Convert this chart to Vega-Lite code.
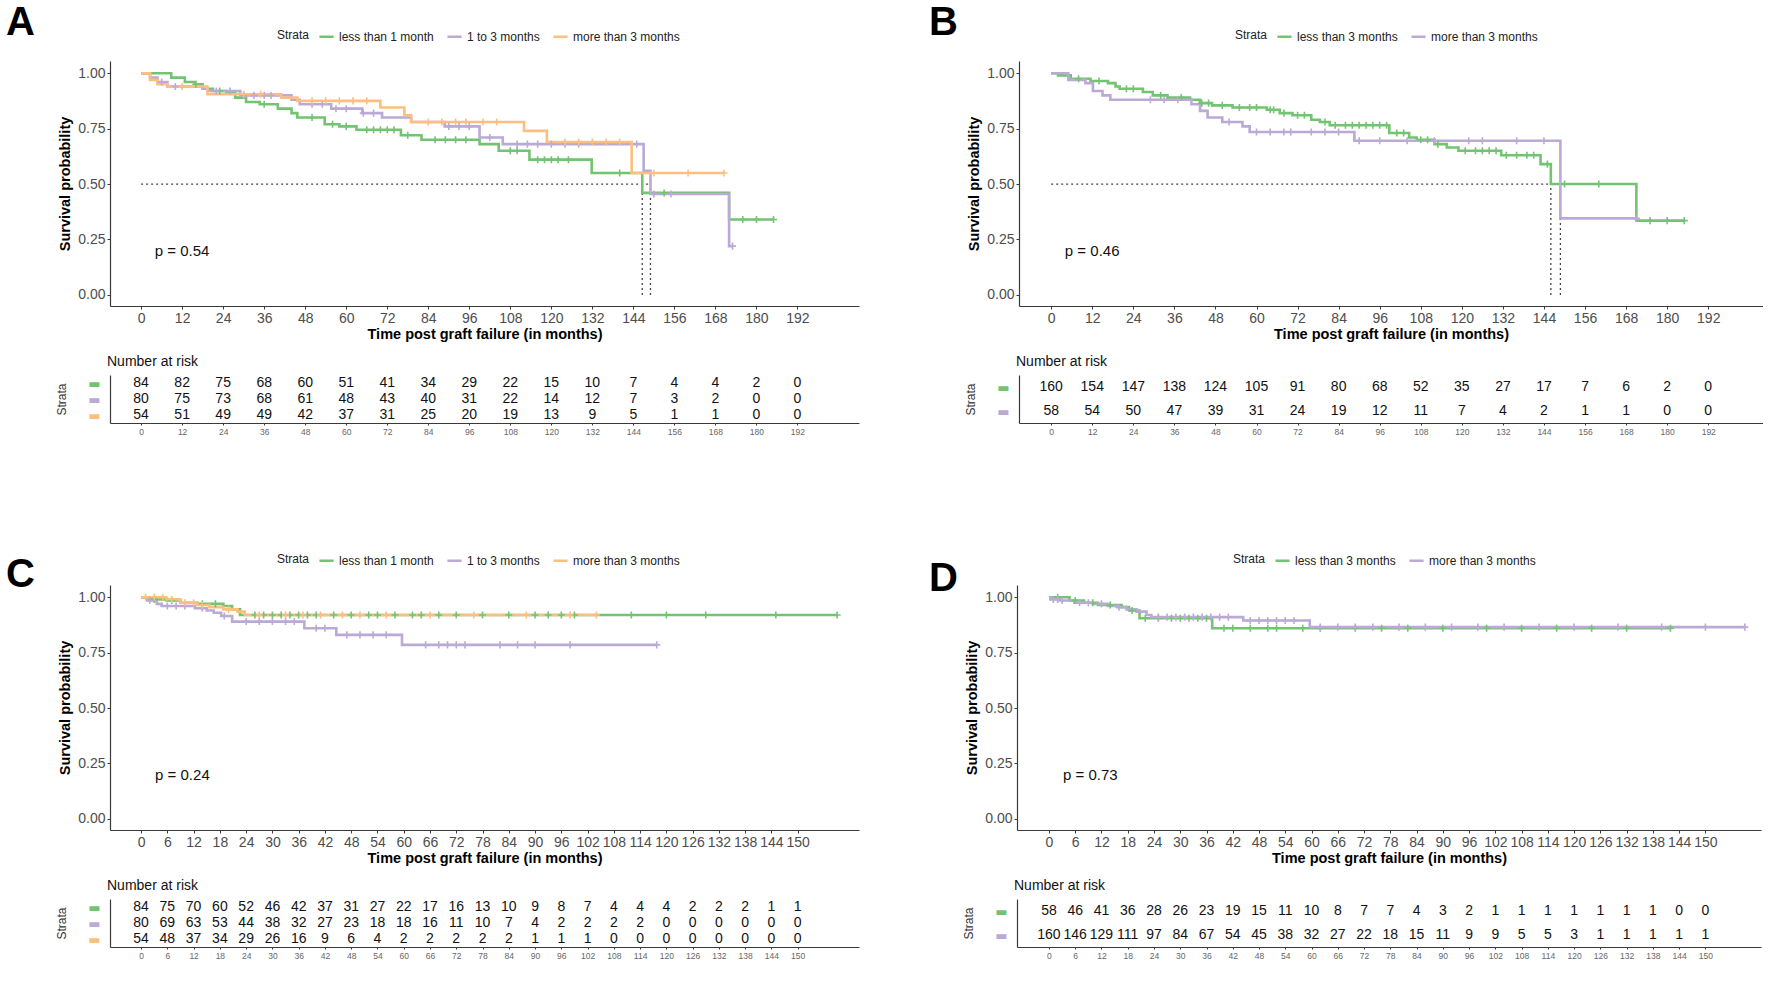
{
"$schema": "https://vega.github.io/schema/vega-lite/v6.json",
"padding": {"left": 6, "top": 3, "right": 0, "bottom": 0},
"background": "white",
"config": {
  "view": {"stroke": null},
  "font": "Liberation Sans",
  "axis": {"grid": false, "domainColor": "#3a3a3a", "domainWidth": 1.2, "tickColor": "#3a3a3a", "labelFont": "Liberation Sans", "titleFont": "Liberation Sans", "labelOverlap": false, "labelFlush": false},
  "title": {"font": "Liberation Sans"},
  "legend": {"orient": "none", "legendY": -33, "direction": "horizontal", "titleOrient": "left", "titleFontSize": 12, "titleFontWeight": "normal", "titleColor": "#222", "labelFontSize": 12, "labelColor": "#222", "labelFont": "Liberation Sans", "titleFont": "Liberation Sans", "symbolType": "stroke", "symbolStrokeWidth": 2.5, "symbolSize": 200, "columnPadding": 8, "titlePadding": 8}
},
"datasets": {
"curvesA": [
{"g":"less than 1 month","t":0,"s":1},{"g":"less than 1 month","t":8.8,"s":0.98},{"g":"less than 1 month","t":12.8,"s":0.96},{"g":"less than 1 month","t":15.8,"s":0.95},{"g":"less than 1 month","t":18,"s":0.93},{"g":"less than 1 month","t":21,"s":0.92},{"g":"less than 1 month","t":25,"s":0.91},{"g":"less than 1 month","t":27.5,"s":0.89},{"g":"less than 1 month","t":30.7,"s":0.87},{"g":"less than 1 month","t":34.7,"s":0.86},{"g":"less than 1 month","t":40,"s":0.84},{"g":"less than 1 month","t":44,"s":0.82},{"g":"less than 1 month","t":45.7,"s":0.80},{"g":"less than 1 month","t":53.7,"s":0.77},{"g":"less than 1 month","t":58,"s":0.76},{"g":"less than 1 month","t":63,"s":0.745},{"g":"less than 1 month","t":76,"s":0.72},{"g":"less than 1 month","t":82,"s":0.70},{"g":"less than 1 month","t":99,"s":0.68},{"g":"less than 1 month","t":104.6,"s":0.65},{"g":"less than 1 month","t":113.6,"s":0.61},{"g":"less than 1 month","t":131.8,"s":0.55},{"g":"less than 1 month","t":146.6,"s":0.46},{"g":"less than 1 month","t":172,"s":0.34},{"g":"less than 1 month","t":185,"s":0.34},
{"g":"1 to 3 months","t":0,"s":1},{"g":"1 to 3 months","t":2.6,"s":0.98},{"g":"1 to 3 months","t":4.8,"s":0.96},{"g":"1 to 3 months","t":7.7,"s":0.94},{"g":"1 to 3 months","t":18,"s":0.93},{"g":"1 to 3 months","t":19.5,"s":0.92},{"g":"1 to 3 months","t":29,"s":0.90},{"g":"1 to 3 months","t":44,"s":0.88},{"g":"1 to 3 months","t":46.4,"s":0.86},{"g":"1 to 3 months","t":55.6,"s":0.84},{"g":"1 to 3 months","t":64.7,"s":0.82},{"g":"1 to 3 months","t":70.5,"s":0.80},{"g":"1 to 3 months","t":79,"s":0.78},{"g":"1 to 3 months","t":88.8,"s":0.76},{"g":"1 to 3 months","t":99,"s":0.71},{"g":"1 to 3 months","t":105.8,"s":0.68},{"g":"1 to 3 months","t":147,"s":0.56},{"g":"1 to 3 months","t":149,"s":0.455},{"g":"1 to 3 months","t":172,"s":0.22},{"g":"1 to 3 months","t":173,"s":0.22},
{"g":"more than 3 months","t":0,"s":1},{"g":"more than 3 months","t":2.6,"s":0.97},{"g":"more than 3 months","t":4.8,"s":0.95},{"g":"more than 3 months","t":7.7,"s":0.94},{"g":"more than 3 months","t":19.4,"s":0.905},{"g":"more than 3 months","t":41,"s":0.89},{"g":"more than 3 months","t":45.7,"s":0.875},{"g":"more than 3 months","t":70,"s":0.845},{"g":"more than 3 months","t":77,"s":0.81},{"g":"more than 3 months","t":79,"s":0.78},{"g":"more than 3 months","t":112,"s":0.74},{"g":"more than 3 months","t":118.7,"s":0.69},{"g":"more than 3 months","t":143.5,"s":0.55},{"g":"more than 3 months","t":170.5,"s":0.55}
],
"censA": [
{"g":"less than 1 month","t":16,"s":0.95},{"g":"less than 1 month","t":23,"s":0.92},{"g":"less than 1 month","t":36,"s":0.86},{"g":"less than 1 month","t":50,"s":0.80},{"g":"less than 1 month","t":56,"s":0.77},{"g":"less than 1 month","t":60,"s":0.76},{"g":"less than 1 month","t":66,"s":0.745},{"g":"less than 1 month","t":68,"s":0.745},{"g":"less than 1 month","t":70,"s":0.745},{"g":"less than 1 month","t":72,"s":0.745},{"g":"less than 1 month","t":74,"s":0.745},{"g":"less than 1 month","t":78,"s":0.72},{"g":"less than 1 month","t":86,"s":0.70},{"g":"less than 1 month","t":89,"s":0.70},{"g":"less than 1 month","t":92,"s":0.70},{"g":"less than 1 month","t":95,"s":0.70},{"g":"less than 1 month","t":108,"s":0.65},{"g":"less than 1 month","t":110,"s":0.65},{"g":"less than 1 month","t":116,"s":0.61},{"g":"less than 1 month","t":118,"s":0.61},{"g":"less than 1 month","t":120,"s":0.61},{"g":"less than 1 month","t":122,"s":0.61},{"g":"less than 1 month","t":125,"s":0.61},{"g":"less than 1 month","t":140,"s":0.55},{"g":"less than 1 month","t":153,"s":0.46},{"g":"less than 1 month","t":176,"s":0.34},{"g":"less than 1 month","t":180,"s":0.34},{"g":"less than 1 month","t":185,"s":0.34},
{"g":"1 to 3 months","t":6,"s":0.96},{"g":"1 to 3 months","t":10,"s":0.94},{"g":"1 to 3 months","t":22,"s":0.92},{"g":"1 to 3 months","t":26,"s":0.92},{"g":"1 to 3 months","t":30,"s":0.90},{"g":"1 to 3 months","t":33,"s":0.90},{"g":"1 to 3 months","t":36,"s":0.90},{"g":"1 to 3 months","t":38,"s":0.90},{"g":"1 to 3 months","t":50,"s":0.86},{"g":"1 to 3 months","t":53,"s":0.86},{"g":"1 to 3 months","t":57,"s":0.84},{"g":"1 to 3 months","t":60,"s":0.84},{"g":"1 to 3 months","t":65,"s":0.82},{"g":"1 to 3 months","t":68,"s":0.82},{"g":"1 to 3 months","t":90,"s":0.76},{"g":"1 to 3 months","t":93,"s":0.76},{"g":"1 to 3 months","t":96,"s":0.76},{"g":"1 to 3 months","t":102,"s":0.71},{"g":"1 to 3 months","t":110,"s":0.68},{"g":"1 to 3 months","t":113,"s":0.68},{"g":"1 to 3 months","t":116,"s":0.68},{"g":"1 to 3 months","t":120,"s":0.68},{"g":"1 to 3 months","t":124,"s":0.68},{"g":"1 to 3 months","t":128,"s":0.68},{"g":"1 to 3 months","t":145,"s":0.68},{"g":"1 to 3 months","t":150,"s":0.455},{"g":"1 to 3 months","t":155,"s":0.455},{"g":"1 to 3 months","t":173,"s":0.22},
{"g":"more than 3 months","t":12,"s":0.94},{"g":"more than 3 months","t":30,"s":0.905},{"g":"more than 3 months","t":35,"s":0.905},{"g":"more than 3 months","t":50,"s":0.875},{"g":"more than 3 months","t":54,"s":0.875},{"g":"more than 3 months","t":58,"s":0.875},{"g":"more than 3 months","t":62,"s":0.875},{"g":"more than 3 months","t":66,"s":0.875},{"g":"more than 3 months","t":84,"s":0.78},{"g":"more than 3 months","t":88,"s":0.78},{"g":"more than 3 months","t":92,"s":0.78},{"g":"more than 3 months","t":95,"s":0.78},{"g":"more than 3 months","t":100,"s":0.78},{"g":"more than 3 months","t":104,"s":0.78},{"g":"more than 3 months","t":124,"s":0.69},{"g":"more than 3 months","t":128,"s":0.69},{"g":"more than 3 months","t":132,"s":0.69},{"g":"more than 3 months","t":136,"s":0.69},{"g":"more than 3 months","t":140,"s":0.69},{"g":"more than 3 months","t":150,"s":0.55},{"g":"more than 3 months","t":160,"s":0.55},{"g":"more than 3 months","t":170.5,"s":0.55}
],
"medA": [{"x":0,"x2":149,"y":0.5,"y2":0.5},{"x":146.6,"x2":146.6,"y":0,"y2":0.5},{"x":149,"x2":149,"y":0,"y2":0.5}],
"riskA": [
{"g":"less than 1 month","t":0,"n":84},{"g":"less than 1 month","t":12,"n":82},{"g":"less than 1 month","t":24,"n":75},{"g":"less than 1 month","t":36,"n":68},{"g":"less than 1 month","t":48,"n":60},{"g":"less than 1 month","t":60,"n":51},{"g":"less than 1 month","t":72,"n":41},{"g":"less than 1 month","t":84,"n":34},{"g":"less than 1 month","t":96,"n":29},{"g":"less than 1 month","t":108,"n":22},{"g":"less than 1 month","t":120,"n":15},{"g":"less than 1 month","t":132,"n":10},{"g":"less than 1 month","t":144,"n":7},{"g":"less than 1 month","t":156,"n":4},{"g":"less than 1 month","t":168,"n":4},{"g":"less than 1 month","t":180,"n":2},{"g":"less than 1 month","t":192,"n":0},
{"g":"1 to 3 months","t":0,"n":80},{"g":"1 to 3 months","t":12,"n":75},{"g":"1 to 3 months","t":24,"n":73},{"g":"1 to 3 months","t":36,"n":68},{"g":"1 to 3 months","t":48,"n":61},{"g":"1 to 3 months","t":60,"n":48},{"g":"1 to 3 months","t":72,"n":43},{"g":"1 to 3 months","t":84,"n":40},{"g":"1 to 3 months","t":96,"n":31},{"g":"1 to 3 months","t":108,"n":22},{"g":"1 to 3 months","t":120,"n":14},{"g":"1 to 3 months","t":132,"n":12},{"g":"1 to 3 months","t":144,"n":7},{"g":"1 to 3 months","t":156,"n":3},{"g":"1 to 3 months","t":168,"n":2},{"g":"1 to 3 months","t":180,"n":0},{"g":"1 to 3 months","t":192,"n":0},
{"g":"more than 3 months","t":0,"n":54},{"g":"more than 3 months","t":12,"n":51},{"g":"more than 3 months","t":24,"n":49},{"g":"more than 3 months","t":36,"n":49},{"g":"more than 3 months","t":48,"n":42},{"g":"more than 3 months","t":60,"n":37},{"g":"more than 3 months","t":72,"n":31},{"g":"more than 3 months","t":84,"n":25},{"g":"more than 3 months","t":96,"n":20},{"g":"more than 3 months","t":108,"n":19},{"g":"more than 3 months","t":120,"n":13},{"g":"more than 3 months","t":132,"n":9},{"g":"more than 3 months","t":144,"n":5},{"g":"more than 3 months","t":156,"n":1},{"g":"more than 3 months","t":168,"n":1},{"g":"more than 3 months","t":180,"n":0},{"g":"more than 3 months","t":192,"n":0}
],
"curvesB": [
{"g":"less than 3 months","t":0,"s":1},{"g":"less than 3 months","t":2,"s":0.99},{"g":"less than 3 months","t":5.7,"s":0.975},{"g":"less than 3 months","t":11.5,"s":0.965},{"g":"less than 3 months","t":16.6,"s":0.955},{"g":"less than 3 months","t":18.8,"s":0.94},{"g":"less than 3 months","t":20,"s":0.93},{"g":"less than 3 months","t":26.8,"s":0.915},{"g":"less than 3 months","t":29.7,"s":0.90},{"g":"less than 3 months","t":34,"s":0.89},{"g":"less than 3 months","t":40.6,"s":0.88},{"g":"less than 3 months","t":43.5,"s":0.865},{"g":"less than 3 months","t":47,"s":0.855},{"g":"less than 3 months","t":53,"s":0.845},{"g":"less than 3 months","t":63,"s":0.835},{"g":"less than 3 months","t":66.8,"s":0.82},{"g":"less than 3 months","t":70.5,"s":0.81},{"g":"less than 3 months","t":76,"s":0.79},{"g":"less than 3 months","t":78.5,"s":0.78},{"g":"less than 3 months","t":81.4,"s":0.765},{"g":"less than 3 months","t":98.8,"s":0.73},{"g":"less than 3 months","t":104.6,"s":0.71},{"g":"less than 3 months","t":106.8,"s":0.70},{"g":"less than 3 months","t":112,"s":0.68},{"g":"less than 3 months","t":115.6,"s":0.665},{"g":"less than 3 months","t":119,"s":0.65},{"g":"less than 3 months","t":131.5,"s":0.63},{"g":"less than 3 months","t":143,"s":0.59},{"g":"less than 3 months","t":146,"s":0.50},{"g":"less than 3 months","t":171,"s":0.335},{"g":"less than 3 months","t":185,"s":0.335},
{"g":"more than 3 months","t":0,"s":1},{"g":"more than 3 months","t":5,"s":0.97},{"g":"more than 3 months","t":10,"s":0.955},{"g":"more than 3 months","t":12.2,"s":0.92},{"g":"more than 3 months","t":15,"s":0.90},{"g":"more than 3 months","t":17.3,"s":0.88},{"g":"more than 3 months","t":41,"s":0.86},{"g":"more than 3 months","t":43.5,"s":0.83},{"g":"more than 3 months","t":45.7,"s":0.80},{"g":"more than 3 months","t":50,"s":0.78},{"g":"more than 3 months","t":55.9,"s":0.76},{"g":"more than 3 months","t":58,"s":0.735},{"g":"more than 3 months","t":88.6,"s":0.695},{"g":"more than 3 months","t":148.8,"s":0.345},{"g":"more than 3 months","t":171,"s":0.345}
],
"censB": [
{"g":"less than 3 months","t":8,"s":0.975},{"g":"less than 3 months","t":14,"s":0.965},{"g":"less than 3 months","t":22,"s":0.93},{"g":"less than 3 months","t":24,"s":0.93},{"g":"less than 3 months","t":32,"s":0.90},{"g":"less than 3 months","t":38,"s":0.89},{"g":"less than 3 months","t":44,"s":0.865},{"g":"less than 3 months","t":46,"s":0.865},{"g":"less than 3 months","t":50,"s":0.855},{"g":"less than 3 months","t":55,"s":0.845},{"g":"less than 3 months","t":58,"s":0.845},{"g":"less than 3 months","t":60,"s":0.845},{"g":"less than 3 months","t":64,"s":0.835},{"g":"less than 3 months","t":65,"s":0.835},{"g":"less than 3 months","t":68,"s":0.82},{"g":"less than 3 months","t":72,"s":0.81},{"g":"less than 3 months","t":74,"s":0.81},{"g":"less than 3 months","t":80,"s":0.78},{"g":"less than 3 months","t":83,"s":0.765},{"g":"less than 3 months","t":86,"s":0.765},{"g":"less than 3 months","t":88,"s":0.765},{"g":"less than 3 months","t":90,"s":0.765},{"g":"less than 3 months","t":92,"s":0.765},{"g":"less than 3 months","t":94,"s":0.765},{"g":"less than 3 months","t":96,"s":0.765},{"g":"less than 3 months","t":98,"s":0.765},{"g":"less than 3 months","t":101,"s":0.73},{"g":"less than 3 months","t":103,"s":0.73},{"g":"less than 3 months","t":108,"s":0.70},{"g":"less than 3 months","t":110,"s":0.70},{"g":"less than 3 months","t":113,"s":0.68},{"g":"less than 3 months","t":121,"s":0.65},{"g":"less than 3 months","t":124,"s":0.65},{"g":"less than 3 months","t":126,"s":0.65},{"g":"less than 3 months","t":128,"s":0.65},{"g":"less than 3 months","t":130,"s":0.65},{"g":"less than 3 months","t":133,"s":0.63},{"g":"less than 3 months","t":136,"s":0.63},{"g":"less than 3 months","t":139,"s":0.63},{"g":"less than 3 months","t":141,"s":0.63},{"g":"less than 3 months","t":145,"s":0.59},{"g":"less than 3 months","t":150,"s":0.50},{"g":"less than 3 months","t":160,"s":0.50},{"g":"less than 3 months","t":175,"s":0.335},{"g":"less than 3 months","t":180,"s":0.335},{"g":"less than 3 months","t":185,"s":0.335},
{"g":"more than 3 months","t":29,"s":0.88},{"g":"more than 3 months","t":33,"s":0.88},{"g":"more than 3 months","t":37,"s":0.88},{"g":"more than 3 months","t":52,"s":0.78},{"g":"more than 3 months","t":60,"s":0.735},{"g":"more than 3 months","t":64,"s":0.735},{"g":"more than 3 months","t":68,"s":0.735},{"g":"more than 3 months","t":70,"s":0.735},{"g":"more than 3 months","t":76,"s":0.735},{"g":"more than 3 months","t":80,"s":0.735},{"g":"more than 3 months","t":84,"s":0.735},{"g":"more than 3 months","t":90,"s":0.695},{"g":"more than 3 months","t":96,"s":0.695},{"g":"more than 3 months","t":104,"s":0.695},{"g":"more than 3 months","t":112,"s":0.695},{"g":"more than 3 months","t":122,"s":0.695},{"g":"more than 3 months","t":126,"s":0.695},{"g":"more than 3 months","t":136,"s":0.695},{"g":"more than 3 months","t":144,"s":0.695},{"g":"more than 3 months","t":171,"s":0.345}
],
"medB": [{"x":0,"x2":148.8,"y":0.5,"y2":0.5},{"x":146,"x2":146,"y":0,"y2":0.5},{"x":148.8,"x2":148.8,"y":0,"y2":0.5}],
"riskB": [
{"g":"less than 3 months","t":0,"n":160},{"g":"less than 3 months","t":12,"n":154},{"g":"less than 3 months","t":24,"n":147},{"g":"less than 3 months","t":36,"n":138},{"g":"less than 3 months","t":48,"n":124},{"g":"less than 3 months","t":60,"n":105},{"g":"less than 3 months","t":72,"n":91},{"g":"less than 3 months","t":84,"n":80},{"g":"less than 3 months","t":96,"n":68},{"g":"less than 3 months","t":108,"n":52},{"g":"less than 3 months","t":120,"n":35},{"g":"less than 3 months","t":132,"n":27},{"g":"less than 3 months","t":144,"n":17},{"g":"less than 3 months","t":156,"n":7},{"g":"less than 3 months","t":168,"n":6},{"g":"less than 3 months","t":180,"n":2},{"g":"less than 3 months","t":192,"n":0},
{"g":"more than 3 months","t":0,"n":58},{"g":"more than 3 months","t":12,"n":54},{"g":"more than 3 months","t":24,"n":50},{"g":"more than 3 months","t":36,"n":47},{"g":"more than 3 months","t":48,"n":39},{"g":"more than 3 months","t":60,"n":31},{"g":"more than 3 months","t":72,"n":24},{"g":"more than 3 months","t":84,"n":19},{"g":"more than 3 months","t":96,"n":12},{"g":"more than 3 months","t":108,"n":11},{"g":"more than 3 months","t":120,"n":7},{"g":"more than 3 months","t":132,"n":4},{"g":"more than 3 months","t":144,"n":2},{"g":"more than 3 months","t":156,"n":1},{"g":"more than 3 months","t":168,"n":1},{"g":"more than 3 months","t":180,"n":0},{"g":"more than 3 months","t":192,"n":0}
],
"curvesC": [
{"g":"less than 1 month","t":0,"s":1},{"g":"less than 1 month","t":1.4,"s":0.99},{"g":"less than 1 month","t":5.8,"s":0.985},{"g":"less than 1 month","t":9,"s":0.975},{"g":"less than 1 month","t":12.8,"s":0.97},{"g":"less than 1 month","t":18.8,"s":0.96},{"g":"less than 1 month","t":20.8,"s":0.945},{"g":"less than 1 month","t":22.6,"s":0.92},{"g":"less than 1 month","t":159,"s":0.92},
{"g":"1 to 3 months","t":0,"s":1},{"g":"1 to 3 months","t":1.4,"s":0.985},{"g":"1 to 3 months","t":3.6,"s":0.97},{"g":"1 to 3 months","t":4.7,"s":0.96},{"g":"1 to 3 months","t":12.3,"s":0.95},{"g":"1 to 3 months","t":15,"s":0.94},{"g":"1 to 3 months","t":16.6,"s":0.93},{"g":"1 to 3 months","t":18.3,"s":0.915},{"g":"1 to 3 months","t":20.8,"s":0.89},{"g":"1 to 3 months","t":37.3,"s":0.86},{"g":"1 to 3 months","t":44.6,"s":0.83},{"g":"1 to 3 months","t":59.6,"s":0.785},{"g":"1 to 3 months","t":117.8,"s":0.785},
{"g":"more than 3 months","t":0,"s":1},{"g":"more than 3 months","t":5.8,"s":0.99},{"g":"more than 3 months","t":9,"s":0.975},{"g":"more than 3 months","t":12.8,"s":0.965},{"g":"more than 3 months","t":15.6,"s":0.955},{"g":"more than 3 months","t":18.8,"s":0.945},{"g":"more than 3 months","t":22,"s":0.935},{"g":"more than 3 months","t":23.7,"s":0.92},{"g":"more than 3 months","t":104,"s":0.92}
],
"censC": [
{"g":"less than 1 month","t":3,"s":0.99},{"g":"less than 1 month","t":7,"s":0.985},{"g":"less than 1 month","t":14,"s":0.97},{"g":"less than 1 month","t":17,"s":0.97},{"g":"less than 1 month","t":26,"s":0.92},{"g":"less than 1 month","t":28,"s":0.92},{"g":"less than 1 month","t":30,"s":0.92},{"g":"less than 1 month","t":32,"s":0.92},{"g":"less than 1 month","t":34,"s":0.92},{"g":"less than 1 month","t":36,"s":0.92},{"g":"less than 1 month","t":38,"s":0.92},{"g":"less than 1 month","t":40,"s":0.92},{"g":"less than 1 month","t":44,"s":0.92},{"g":"less than 1 month","t":48,"s":0.92},{"g":"less than 1 month","t":52,"s":0.92},{"g":"less than 1 month","t":54,"s":0.92},{"g":"less than 1 month","t":58,"s":0.92},{"g":"less than 1 month","t":62,"s":0.92},{"g":"less than 1 month","t":64,"s":0.92},{"g":"less than 1 month","t":68,"s":0.92},{"g":"less than 1 month","t":72,"s":0.92},{"g":"less than 1 month","t":78,"s":0.92},{"g":"less than 1 month","t":84,"s":0.92},{"g":"less than 1 month","t":90,"s":0.92},{"g":"less than 1 month","t":93,"s":0.92},{"g":"less than 1 month","t":96,"s":0.92},{"g":"less than 1 month","t":99,"s":0.92},{"g":"less than 1 month","t":112,"s":0.92},{"g":"less than 1 month","t":120,"s":0.92},{"g":"less than 1 month","t":129,"s":0.92},{"g":"less than 1 month","t":145,"s":0.92},{"g":"less than 1 month","t":159,"s":0.92},
{"g":"1 to 3 months","t":2,"s":0.985},{"g":"1 to 3 months","t":6,"s":0.96},{"g":"1 to 3 months","t":8,"s":0.96},{"g":"1 to 3 months","t":10,"s":0.96},{"g":"1 to 3 months","t":14,"s":0.95},{"g":"1 to 3 months","t":19,"s":0.915},{"g":"1 to 3 months","t":24,"s":0.89},{"g":"1 to 3 months","t":27,"s":0.89},{"g":"1 to 3 months","t":30,"s":0.89},{"g":"1 to 3 months","t":33,"s":0.89},{"g":"1 to 3 months","t":35,"s":0.89},{"g":"1 to 3 months","t":40,"s":0.86},{"g":"1 to 3 months","t":42,"s":0.86},{"g":"1 to 3 months","t":47,"s":0.83},{"g":"1 to 3 months","t":50,"s":0.83},{"g":"1 to 3 months","t":53,"s":0.83},{"g":"1 to 3 months","t":56,"s":0.83},{"g":"1 to 3 months","t":65,"s":0.785},{"g":"1 to 3 months","t":68,"s":0.785},{"g":"1 to 3 months","t":70,"s":0.785},{"g":"1 to 3 months","t":72,"s":0.785},{"g":"1 to 3 months","t":74,"s":0.785},{"g":"1 to 3 months","t":82,"s":0.785},{"g":"1 to 3 months","t":86,"s":0.785},{"g":"1 to 3 months","t":90,"s":0.785},{"g":"1 to 3 months","t":98,"s":0.785},{"g":"1 to 3 months","t":117.8,"s":0.785},
{"g":"more than 3 months","t":1,"s":1},{"g":"more than 3 months","t":3,"s":1},{"g":"more than 3 months","t":5,"s":1},{"g":"more than 3 months","t":7,"s":0.99},{"g":"more than 3 months","t":10,"s":0.975},{"g":"more than 3 months","t":12,"s":0.975},{"g":"more than 3 months","t":14,"s":0.965},{"g":"more than 3 months","t":20,"s":0.945},{"g":"more than 3 months","t":27,"s":0.92},{"g":"more than 3 months","t":33,"s":0.92},{"g":"more than 3 months","t":37,"s":0.92},{"g":"more than 3 months","t":41,"s":0.92},{"g":"more than 3 months","t":46,"s":0.92},{"g":"more than 3 months","t":50,"s":0.92},{"g":"more than 3 months","t":56,"s":0.92},{"g":"more than 3 months","t":66,"s":0.92},{"g":"more than 3 months","t":76,"s":0.92},{"g":"more than 3 months","t":88,"s":0.92},{"g":"more than 3 months","t":98,"s":0.92},{"g":"more than 3 months","t":104,"s":0.92}
],
"riskC": [
{"g":"less than 1 month","t":0,"n":84},{"g":"less than 1 month","t":6,"n":75},{"g":"less than 1 month","t":12,"n":70},{"g":"less than 1 month","t":18,"n":60},{"g":"less than 1 month","t":24,"n":52},{"g":"less than 1 month","t":30,"n":46},{"g":"less than 1 month","t":36,"n":42},{"g":"less than 1 month","t":42,"n":37},{"g":"less than 1 month","t":48,"n":31},{"g":"less than 1 month","t":54,"n":27},{"g":"less than 1 month","t":60,"n":22},{"g":"less than 1 month","t":66,"n":17},{"g":"less than 1 month","t":72,"n":16},{"g":"less than 1 month","t":78,"n":13},{"g":"less than 1 month","t":84,"n":10},{"g":"less than 1 month","t":90,"n":9},{"g":"less than 1 month","t":96,"n":8},{"g":"less than 1 month","t":102,"n":7},{"g":"less than 1 month","t":108,"n":4},{"g":"less than 1 month","t":114,"n":4},{"g":"less than 1 month","t":120,"n":4},{"g":"less than 1 month","t":126,"n":2},{"g":"less than 1 month","t":132,"n":2},{"g":"less than 1 month","t":138,"n":2},{"g":"less than 1 month","t":144,"n":1},{"g":"less than 1 month","t":150,"n":1},
{"g":"1 to 3 months","t":0,"n":80},{"g":"1 to 3 months","t":6,"n":69},{"g":"1 to 3 months","t":12,"n":63},{"g":"1 to 3 months","t":18,"n":53},{"g":"1 to 3 months","t":24,"n":44},{"g":"1 to 3 months","t":30,"n":38},{"g":"1 to 3 months","t":36,"n":32},{"g":"1 to 3 months","t":42,"n":27},{"g":"1 to 3 months","t":48,"n":23},{"g":"1 to 3 months","t":54,"n":18},{"g":"1 to 3 months","t":60,"n":18},{"g":"1 to 3 months","t":66,"n":16},{"g":"1 to 3 months","t":72,"n":11},{"g":"1 to 3 months","t":78,"n":10},{"g":"1 to 3 months","t":84,"n":7},{"g":"1 to 3 months","t":90,"n":4},{"g":"1 to 3 months","t":96,"n":2},{"g":"1 to 3 months","t":102,"n":2},{"g":"1 to 3 months","t":108,"n":2},{"g":"1 to 3 months","t":114,"n":2},{"g":"1 to 3 months","t":120,"n":0},{"g":"1 to 3 months","t":126,"n":0},{"g":"1 to 3 months","t":132,"n":0},{"g":"1 to 3 months","t":138,"n":0},{"g":"1 to 3 months","t":144,"n":0},{"g":"1 to 3 months","t":150,"n":0},
{"g":"more than 3 months","t":0,"n":54},{"g":"more than 3 months","t":6,"n":48},{"g":"more than 3 months","t":12,"n":37},{"g":"more than 3 months","t":18,"n":34},{"g":"more than 3 months","t":24,"n":29},{"g":"more than 3 months","t":30,"n":26},{"g":"more than 3 months","t":36,"n":16},{"g":"more than 3 months","t":42,"n":9},{"g":"more than 3 months","t":48,"n":6},{"g":"more than 3 months","t":54,"n":4},{"g":"more than 3 months","t":60,"n":2},{"g":"more than 3 months","t":66,"n":2},{"g":"more than 3 months","t":72,"n":2},{"g":"more than 3 months","t":78,"n":2},{"g":"more than 3 months","t":84,"n":2},{"g":"more than 3 months","t":90,"n":1},{"g":"more than 3 months","t":96,"n":1},{"g":"more than 3 months","t":102,"n":1},{"g":"more than 3 months","t":108,"n":0},{"g":"more than 3 months","t":114,"n":0},{"g":"more than 3 months","t":120,"n":0},{"g":"more than 3 months","t":126,"n":0},{"g":"more than 3 months","t":132,"n":0},{"g":"more than 3 months","t":138,"n":0},{"g":"more than 3 months","t":144,"n":0},{"g":"more than 3 months","t":150,"n":0}
],
"curvesD": [
{"g":"less than 3 months","t":0,"s":1},{"g":"less than 3 months","t":4.7,"s":0.985},{"g":"less than 3 months","t":8,"s":0.975},{"g":"less than 3 months","t":11.2,"s":0.965},{"g":"less than 3 months","t":16.6,"s":0.955},{"g":"less than 3 months","t":18.3,"s":0.94},{"g":"less than 3 months","t":20.7,"s":0.905},{"g":"less than 3 months","t":37.3,"s":0.86},{"g":"less than 3 months","t":142,"s":0.86},
{"g":"more than 3 months","t":0,"s":1},{"g":"more than 3 months","t":0.3,"s":0.99},{"g":"more than 3 months","t":2.5,"s":0.985},{"g":"more than 3 months","t":5.8,"s":0.975},{"g":"more than 3 months","t":10,"s":0.97},{"g":"more than 3 months","t":13.4,"s":0.96},{"g":"more than 3 months","t":15.6,"s":0.955},{"g":"more than 3 months","t":17.7,"s":0.945},{"g":"more than 3 months","t":20,"s":0.935},{"g":"more than 3 months","t":22.3,"s":0.92},{"g":"more than 3 months","t":23.4,"s":0.91},{"g":"more than 3 months","t":44.4,"s":0.895},{"g":"more than 3 months","t":59.6,"s":0.865},{"g":"more than 3 months","t":159,"s":0.865}
],
"censD": [
{"g":"less than 3 months","t":2,"s":1},{"g":"less than 3 months","t":6,"s":0.985},{"g":"less than 3 months","t":10,"s":0.975},{"g":"less than 3 months","t":14,"s":0.965},{"g":"less than 3 months","t":19,"s":0.94},{"g":"less than 3 months","t":22,"s":0.905},{"g":"less than 3 months","t":25,"s":0.905},{"g":"less than 3 months","t":28,"s":0.905},{"g":"less than 3 months","t":30,"s":0.905},{"g":"less than 3 months","t":32,"s":0.905},{"g":"less than 3 months","t":34,"s":0.905},{"g":"less than 3 months","t":36,"s":0.905},{"g":"less than 3 months","t":40,"s":0.86},{"g":"less than 3 months","t":42,"s":0.86},{"g":"less than 3 months","t":46,"s":0.86},{"g":"less than 3 months","t":50,"s":0.86},{"g":"less than 3 months","t":52,"s":0.86},{"g":"less than 3 months","t":58,"s":0.86},{"g":"less than 3 months","t":62,"s":0.86},{"g":"less than 3 months","t":70,"s":0.86},{"g":"less than 3 months","t":76,"s":0.86},{"g":"less than 3 months","t":82,"s":0.86},{"g":"less than 3 months","t":90,"s":0.86},{"g":"less than 3 months","t":100,"s":0.86},{"g":"less than 3 months","t":108,"s":0.86},{"g":"less than 3 months","t":116,"s":0.86},{"g":"less than 3 months","t":124,"s":0.86},{"g":"less than 3 months","t":132,"s":0.86},{"g":"less than 3 months","t":142,"s":0.86},
{"g":"more than 3 months","t":1,"s":0.99},{"g":"more than 3 months","t":2,"s":0.99},{"g":"more than 3 months","t":3,"s":0.985},{"g":"more than 3 months","t":7,"s":0.975},{"g":"more than 3 months","t":9,"s":0.975},{"g":"more than 3 months","t":12,"s":0.97},{"g":"more than 3 months","t":16,"s":0.955},{"g":"more than 3 months","t":25,"s":0.91},{"g":"more than 3 months","t":27,"s":0.91},{"g":"more than 3 months","t":29,"s":0.91},{"g":"more than 3 months","t":31,"s":0.91},{"g":"more than 3 months","t":33,"s":0.91},{"g":"more than 3 months","t":35,"s":0.91},{"g":"more than 3 months","t":37,"s":0.91},{"g":"more than 3 months","t":39,"s":0.91},{"g":"more than 3 months","t":41,"s":0.91},{"g":"more than 3 months","t":46,"s":0.895},{"g":"more than 3 months","t":48,"s":0.895},{"g":"more than 3 months","t":50,"s":0.895},{"g":"more than 3 months","t":52,"s":0.895},{"g":"more than 3 months","t":54,"s":0.895},{"g":"more than 3 months","t":56,"s":0.895},{"g":"more than 3 months","t":62,"s":0.865},{"g":"more than 3 months","t":66,"s":0.865},{"g":"more than 3 months","t":70,"s":0.865},{"g":"more than 3 months","t":74,"s":0.865},{"g":"more than 3 months","t":80,"s":0.865},{"g":"more than 3 months","t":86,"s":0.865},{"g":"more than 3 months","t":92,"s":0.865},{"g":"more than 3 months","t":98,"s":0.865},{"g":"more than 3 months","t":104,"s":0.865},{"g":"more than 3 months","t":112,"s":0.865},{"g":"more than 3 months","t":120,"s":0.865},{"g":"more than 3 months","t":130,"s":0.865},{"g":"more than 3 months","t":140,"s":0.865},{"g":"more than 3 months","t":150,"s":0.865},{"g":"more than 3 months","t":159,"s":0.865}
],
"riskD": [
{"g":"less than 3 months","t":0,"n":58},{"g":"less than 3 months","t":6,"n":46},{"g":"less than 3 months","t":12,"n":41},{"g":"less than 3 months","t":18,"n":36},{"g":"less than 3 months","t":24,"n":28},{"g":"less than 3 months","t":30,"n":26},{"g":"less than 3 months","t":36,"n":23},{"g":"less than 3 months","t":42,"n":19},{"g":"less than 3 months","t":48,"n":15},{"g":"less than 3 months","t":54,"n":11},{"g":"less than 3 months","t":60,"n":10},{"g":"less than 3 months","t":66,"n":8},{"g":"less than 3 months","t":72,"n":7},{"g":"less than 3 months","t":78,"n":7},{"g":"less than 3 months","t":84,"n":4},{"g":"less than 3 months","t":90,"n":3},{"g":"less than 3 months","t":96,"n":2},{"g":"less than 3 months","t":102,"n":1},{"g":"less than 3 months","t":108,"n":1},{"g":"less than 3 months","t":114,"n":1},{"g":"less than 3 months","t":120,"n":1},{"g":"less than 3 months","t":126,"n":1},{"g":"less than 3 months","t":132,"n":1},{"g":"less than 3 months","t":138,"n":1},{"g":"less than 3 months","t":144,"n":0},{"g":"less than 3 months","t":150,"n":0},
{"g":"more than 3 months","t":0,"n":160},{"g":"more than 3 months","t":6,"n":146},{"g":"more than 3 months","t":12,"n":129},{"g":"more than 3 months","t":18,"n":111},{"g":"more than 3 months","t":24,"n":97},{"g":"more than 3 months","t":30,"n":84},{"g":"more than 3 months","t":36,"n":67},{"g":"more than 3 months","t":42,"n":54},{"g":"more than 3 months","t":48,"n":45},{"g":"more than 3 months","t":54,"n":38},{"g":"more than 3 months","t":60,"n":32},{"g":"more than 3 months","t":66,"n":27},{"g":"more than 3 months","t":72,"n":22},{"g":"more than 3 months","t":78,"n":18},{"g":"more than 3 months","t":84,"n":15},{"g":"more than 3 months","t":90,"n":11},{"g":"more than 3 months","t":96,"n":9},{"g":"more than 3 months","t":102,"n":9},{"g":"more than 3 months","t":108,"n":5},{"g":"more than 3 months","t":114,"n":5},{"g":"more than 3 months","t":120,"n":3},{"g":"more than 3 months","t":126,"n":1},{"g":"more than 3 months","t":132,"n":1},{"g":"more than 3 months","t":138,"n":1},{"g":"more than 3 months","t":144,"n":1},{"g":"more than 3 months","t":150,"n":1}
]
},
"spacing": 116,
"resolve": {"scale": {"x": "independent", "y": "independent", "color": "independent"}, "legend": {"color": "independent"}},
"vconcat": [
{"hconcat": [
 {"vconcat": [
  {"width": 749, "height": 245,
   "title": {"text": "A", "anchor": "start", "frame": "group", "dx": -104, "dy": -18, "offset": 0, "fontSize": 40, "fontWeight": "bold", "color": "#000"},
   "encoding": {
    "x": {"type": "quantitative", "scale": {"domain": [-9.1, 210], "nice": false, "zero": false}, "axis": {"values": [0,12,24,36,48,60,72,84,96,108,120,132,144,156,168,180,192], "title": "Time post graft failure (in months)", "labelFontSize": 14, "labelColor": "#4d4d4d", "tickSize": 3, "labelPadding": 2, "titleFontSize": 14.5, "titleFontWeight": "bold", "titleColor": "#000", "titlePadding": 2}},
    "y": {"type": "quantitative", "scale": {"domain": [-0.05, 1.055], "nice": false, "zero": false}, "axis": {"values": [0, 0.25, 0.5, 0.75, 1], "format": ".2f", "title": "Survival probability", "labelFontSize": 14, "labelColor": "#4d4d4d", "tickSize": 3, "labelPadding": 2, "titleFontSize": 14.5, "titleFontWeight": "bold", "titleColor": "#000", "titlePadding": 5}}
   },
   "layer": [
    {"data": {"name": "medA"}, "mark": {"type": "rule", "strokeDash": [2, 3], "color": "#444", "strokeWidth": 1.3},
     "encoding": {"x": {"field": "x"}, "x2": {"field": "x2"}, "y": {"field": "y"}, "y2": {"field": "y2"}}},
    {"data": {"name": "curvesA"}, "mark": {"type": "line", "interpolate": "step-after", "strokeWidth": 2.6},
     "encoding": {"x": {"field": "t"}, "y": {"field": "s"},
      "color": {"field": "g", "type": "nominal", "scale": {"domain": ["less than 1 month", "1 to 3 months", "more than 3 months"], "range": ["#72C472", "#BBA9D6", "#FDBF80"]}, "legend": {"title": "Strata", "legendX": 167, "legendY": -33}}}},
    {"data": {"name": "censA"}, "mark": {"type": "point", "shape": "M-1,0H1M0,-1V1", "filled": false, "size": 50, "strokeWidth": 1.6, "opacity": 1},
     "encoding": {"x": {"field": "t"}, "y": {"field": "s"}, "color": {"field": "g", "type": "nominal", "legend": null}}},
    {"data": {"values": [{"x": 4, "y": 0.2, "label": "p = 0.54"}]}, "mark": {"type": "text", "align": "left", "baseline": "middle", "fontSize": 15, "color": "#111"},
     "encoding": {"x": {"field": "x"}, "y": {"field": "y"}, "text": {"field": "label"}}}
   ]},
  {"width": 749, "height": 48,
   "title": {"text": "Number at risk", "anchor": "start", "frame": "group", "dx": -3, "offset": 6, "fontSize": 14, "fontWeight": "normal", "color": "#111"},
   "data": {"name": "riskA"},
   "mark": {"type": "text", "fontSize": 14, "color": "#111"},
   "encoding": {
    "x": {"field": "t", "type": "quantitative", "scale": {"domain": [-9.1, 210], "nice": false, "zero": false}, "axis": {"values": [0,12,24,36,48,60,72,84,96,108,120,132,144,156,168,180,192], "title": null, "labelFontSize": 8.5, "labelColor": "#666", "tickSize": 2, "labelPadding": 2}},
    "y": {"field": "g", "type": "nominal", "scale": {"type": "point", "domain": ["less than 1 month", "1 to 3 months", "more than 3 months"], "padding": 0.5}, "axis": {"title": "Strata", "titleFontSize": 12, "titleFontWeight": "normal", "titleColor": "#333", "titlePadding": 19, "ticks": false, "labelExpr": "'▬'", "labelFont": "DejaVu Sans", "labelFontSize": 13, "labelPadding": 10, "labelColor": {"condition": [{"test": "datum.value === 'less than 1 month'", "value": "#72C472"}, {"test": "datum.value === '1 to 3 months'", "value": "#BBA9D6"}], "value": "#FDBF80"}}},
    "text": {"field": "n", "type": "nominal"}}}
 ], "spacing": 14, "resolve": {"scale": {"x": "independent", "y": "independent"}}},
 {"vconcat": [
  {"width": 744, "height": 245,
   "title": {"text": "B", "anchor": "start", "frame": "group", "dx": -90, "dy": -18, "offset": 0, "fontSize": 40, "fontWeight": "bold", "color": "#000"},
   "encoding": {
    "x": {"type": "quantitative", "scale": {"domain": [-9.4, 208], "nice": false, "zero": false}, "axis": {"values": [0,12,24,36,48,60,72,84,96,108,120,132,144,156,168,180,192], "title": "Time post graft failure (in months)", "labelFontSize": 14, "labelColor": "#4d4d4d", "tickSize": 3, "labelPadding": 2, "titleFontSize": 14.5, "titleFontWeight": "bold", "titleColor": "#000", "titlePadding": 2}},
    "y": {"type": "quantitative", "scale": {"domain": [-0.05, 1.055], "nice": false, "zero": false}, "axis": {"values": [0, 0.25, 0.5, 0.75, 1], "format": ".2f", "title": "Survival probability", "labelFontSize": 14, "labelColor": "#4d4d4d", "tickSize": 3, "labelPadding": 2, "titleFontSize": 14.5, "titleFontWeight": "bold", "titleColor": "#000", "titlePadding": 5}}
   },
   "layer": [
    {"data": {"name": "medB"}, "mark": {"type": "rule", "strokeDash": [2, 3], "color": "#444", "strokeWidth": 1.3},
     "encoding": {"x": {"field": "x"}, "x2": {"field": "x2"}, "y": {"field": "y"}, "y2": {"field": "y2"}}},
    {"data": {"name": "curvesB"}, "mark": {"type": "line", "interpolate": "step-after", "strokeWidth": 2.6},
     "encoding": {"x": {"field": "t"}, "y": {"field": "s"},
      "color": {"field": "g", "type": "nominal", "scale": {"domain": ["less than 3 months", "more than 3 months"], "range": ["#72C472", "#BBA9D6"]}, "legend": {"title": "Strata", "legendX": 216, "legendY": -33}}}},
    {"data": {"name": "censB"}, "mark": {"type": "point", "shape": "M-1,0H1M0,-1V1", "filled": false, "size": 50, "strokeWidth": 1.6, "opacity": 1},
     "encoding": {"x": {"field": "t"}, "y": {"field": "s"}, "color": {"field": "g", "type": "nominal", "legend": null}}},
    {"data": {"values": [{"x": 4, "y": 0.2, "label": "p = 0.46"}]}, "mark": {"type": "text", "align": "left", "baseline": "middle", "fontSize": 15, "color": "#111"},
     "encoding": {"x": {"field": "x"}, "y": {"field": "y"}, "text": {"field": "label"}}}
   ]},
  {"width": 744, "height": 48,
   "title": {"text": "Number at risk", "anchor": "start", "frame": "group", "dx": -3, "offset": 6, "fontSize": 14, "fontWeight": "normal", "color": "#111"},
   "data": {"name": "riskB"},
   "mark": {"type": "text", "fontSize": 14, "color": "#111"},
   "encoding": {
    "x": {"field": "t", "type": "quantitative", "scale": {"domain": [-9.4, 208], "nice": false, "zero": false}, "axis": {"values": [0,12,24,36,48,60,72,84,96,108,120,132,144,156,168,180,192], "title": null, "labelFontSize": 8.5, "labelColor": "#666", "tickSize": 2, "labelPadding": 2}},
    "y": {"field": "g", "type": "nominal", "scale": {"type": "point", "domain": ["less than 3 months", "more than 3 months"], "padding": 0.5}, "axis": {"title": "Strata", "titleFontSize": 12, "titleFontWeight": "normal", "titleColor": "#333", "titlePadding": 19, "ticks": false, "labelExpr": "'▬'", "labelFont": "DejaVu Sans", "labelFontSize": 13, "labelPadding": 10, "labelColor": {"condition": [{"test": "datum.value === 'less than 3 months'", "value": "#72C472"}], "value": "#BBA9D6"}}},
    "text": {"field": "n", "type": "nominal"}}}
 ], "spacing": 14, "resolve": {"scale": {"x": "independent", "y": "independent"}}}
], "spacing": 70, "resolve": {"scale": {"x": "independent", "y": "independent", "color": "independent"}, "legend": {"color": "independent"}}},
{"hconcat": [
 {"vconcat": [
  {"width": 749, "height": 245,
   "title": {"text": "C", "anchor": "start", "frame": "group", "dx": -104, "dy": 10, "offset": 0, "fontSize": 40, "fontWeight": "bold", "color": "#000"},
   "encoding": {
    "x": {"type": "quantitative", "scale": {"domain": [-7.1, 164], "nice": false, "zero": false}, "axis": {"values": [0,6,12,18,24,30,36,42,48,54,60,66,72,78,84,90,96,102,108,114,120,126,132,138,144,150], "title": "Time post graft failure (in months)", "labelFontSize": 14, "labelColor": "#4d4d4d", "tickSize": 3, "labelPadding": 2, "titleFontSize": 14.5, "titleFontWeight": "bold", "titleColor": "#000", "titlePadding": 2}},
    "y": {"type": "quantitative", "scale": {"domain": [-0.05, 1.055], "nice": false, "zero": false}, "axis": {"values": [0, 0.25, 0.5, 0.75, 1], "format": ".2f", "title": "Survival probability", "labelFontSize": 14, "labelColor": "#4d4d4d", "tickSize": 3, "labelPadding": 2, "titleFontSize": 14.5, "titleFontWeight": "bold", "titleColor": "#000", "titlePadding": 5}}
   },
   "layer": [
    {"data": {"name": "curvesC"}, "mark": {"type": "line", "interpolate": "step-after", "strokeWidth": 2.6},
     "encoding": {"x": {"field": "t"}, "y": {"field": "s"},
      "color": {"field": "g", "type": "nominal", "scale": {"domain": ["less than 1 month", "1 to 3 months", "more than 3 months"], "range": ["#72C472", "#BBA9D6", "#FDBF80"]}, "legend": {"title": "Strata", "legendX": 167, "legendY": -33}}}},
    {"data": {"name": "censC"}, "mark": {"type": "point", "shape": "M-1,0H1M0,-1V1", "filled": false, "size": 50, "strokeWidth": 1.6, "opacity": 1},
     "encoding": {"x": {"field": "t"}, "y": {"field": "s"}, "color": {"field": "g", "type": "nominal", "legend": null}}},
    {"data": {"values": [{"x": 3.2, "y": 0.2, "label": "p = 0.24"}]}, "mark": {"type": "text", "align": "left", "baseline": "middle", "fontSize": 15, "color": "#111"},
     "encoding": {"x": {"field": "x"}, "y": {"field": "y"}, "text": {"field": "label"}}}
   ]},
  {"width": 749, "height": 48,
   "title": {"text": "Number at risk", "anchor": "start", "frame": "group", "dx": -3, "offset": 6, "fontSize": 14, "fontWeight": "normal", "color": "#111"},
   "data": {"name": "riskC"},
   "mark": {"type": "text", "fontSize": 14, "color": "#111"},
   "encoding": {
    "x": {"field": "t", "type": "quantitative", "scale": {"domain": [-7.1, 164], "nice": false, "zero": false}, "axis": {"values": [0,6,12,18,24,30,36,42,48,54,60,66,72,78,84,90,96,102,108,114,120,126,132,138,144,150], "title": null, "labelFontSize": 8.5, "labelColor": "#666", "tickSize": 2, "labelPadding": 2}},
    "y": {"field": "g", "type": "nominal", "scale": {"type": "point", "domain": ["less than 1 month", "1 to 3 months", "more than 3 months"], "padding": 0.5}, "axis": {"title": "Strata", "titleFontSize": 12, "titleFontWeight": "normal", "titleColor": "#333", "titlePadding": 19, "ticks": false, "labelExpr": "'▬'", "labelFont": "DejaVu Sans", "labelFontSize": 13, "labelPadding": 10, "labelColor": {"condition": [{"test": "datum.value === 'less than 1 month'", "value": "#72C472"}, {"test": "datum.value === '1 to 3 months'", "value": "#BBA9D6"}], "value": "#FDBF80"}}},
    "text": {"field": "n", "type": "nominal"}}}
 ], "spacing": 14, "resolve": {"scale": {"x": "independent", "y": "independent"}}},
 {"vconcat": [
  {"width": 744, "height": 245,
   "title": {"text": "D", "anchor": "start", "frame": "group", "dx": -88, "dy": 14, "offset": 0, "fontSize": 40, "fontWeight": "bold", "color": "#000"},
   "encoding": {
    "x": {"type": "quantitative", "scale": {"domain": [-7.3, 162.7], "nice": false, "zero": false}, "axis": {"values": [0,6,12,18,24,30,36,42,48,54,60,66,72,78,84,90,96,102,108,114,120,126,132,138,144,150], "title": "Time post graft failure (in months)", "labelFontSize": 14, "labelColor": "#4d4d4d", "tickSize": 3, "labelPadding": 2, "titleFontSize": 14.5, "titleFontWeight": "bold", "titleColor": "#000", "titlePadding": 2}},
    "y": {"type": "quantitative", "scale": {"domain": [-0.05, 1.055], "nice": false, "zero": false}, "axis": {"values": [0, 0.25, 0.5, 0.75, 1], "format": ".2f", "title": "Survival probability", "labelFontSize": 14, "labelColor": "#4d4d4d", "tickSize": 3, "labelPadding": 2, "titleFontSize": 14.5, "titleFontWeight": "bold", "titleColor": "#000", "titlePadding": 5}}
   },
   "layer": [
    {"data": {"name": "curvesD"}, "mark": {"type": "line", "interpolate": "step-after", "strokeWidth": 2.6},
     "encoding": {"x": {"field": "t"}, "y": {"field": "s"},
      "color": {"field": "g", "type": "nominal", "scale": {"domain": ["less than 3 months", "more than 3 months"], "range": ["#72C472", "#BBA9D6"]}, "legend": {"title": "Strata", "legendX": 216, "legendY": -33}}}},
    {"data": {"name": "censD"}, "mark": {"type": "point", "shape": "M-1,0H1M0,-1V1", "filled": false, "size": 50, "strokeWidth": 1.6, "opacity": 1},
     "encoding": {"x": {"field": "t"}, "y": {"field": "s"}, "color": {"field": "g", "type": "nominal", "legend": null}}},
    {"data": {"values": [{"x": 3.2, "y": 0.2, "label": "p = 0.73"}]}, "mark": {"type": "text", "align": "left", "baseline": "middle", "fontSize": 15, "color": "#111"},
     "encoding": {"x": {"field": "x"}, "y": {"field": "y"}, "text": {"field": "label"}}}
   ]},
  {"width": 744, "height": 48,
   "title": {"text": "Number at risk", "anchor": "start", "frame": "group", "dx": -3, "offset": 6, "fontSize": 14, "fontWeight": "normal", "color": "#111"},
   "data": {"name": "riskD"},
   "mark": {"type": "text", "fontSize": 14, "color": "#111"},
   "encoding": {
    "x": {"field": "t", "type": "quantitative", "scale": {"domain": [-7.3, 162.7], "nice": false, "zero": false}, "axis": {"values": [0,6,12,18,24,30,36,42,48,54,60,66,72,78,84,90,96,102,108,114,120,126,132,138,144,150], "title": null, "labelFontSize": 8.5, "labelColor": "#666", "tickSize": 2, "labelPadding": 2}},
    "y": {"field": "g", "type": "nominal", "scale": {"type": "point", "domain": ["less than 3 months", "more than 3 months"], "padding": 0.5}, "axis": {"title": "Strata", "titleFontSize": 12, "titleFontWeight": "normal", "titleColor": "#333", "titlePadding": 19, "ticks": false, "labelExpr": "'▬'", "labelFont": "DejaVu Sans", "labelFontSize": 13, "labelPadding": 10, "labelColor": {"condition": [{"test": "datum.value === 'less than 3 months'", "value": "#72C472"}], "value": "#BBA9D6"}}},
    "text": {"field": "n", "type": "nominal"}}}
 ], "spacing": 14, "resolve": {"scale": {"x": "independent", "y": "independent"}}}
], "spacing": 70, "resolve": {"scale": {"x": "independent", "y": "independent", "color": "independent"}, "legend": {"color": "independent"}}}
]
}
